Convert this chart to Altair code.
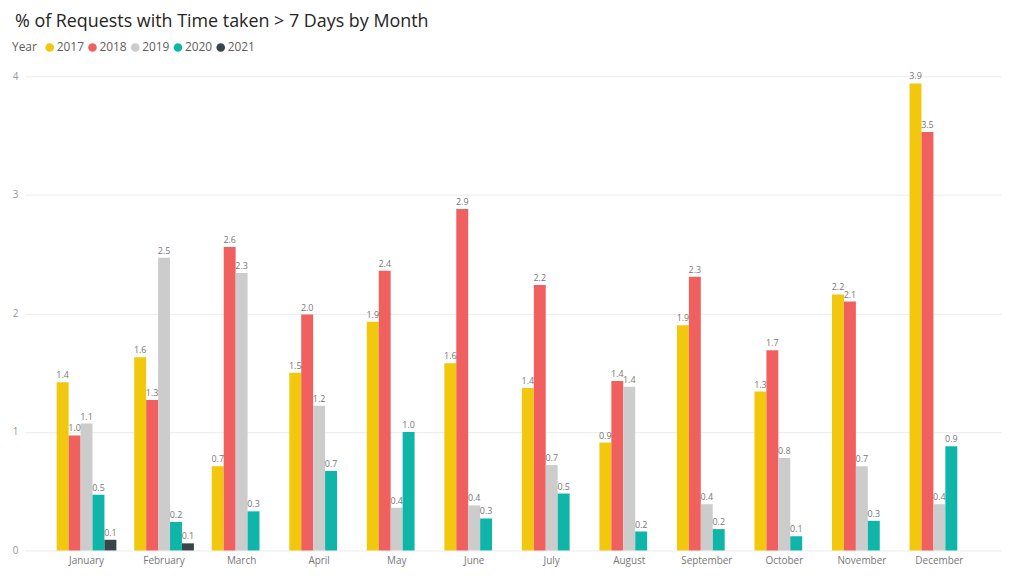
import altair as alt
import pandas as pd

months = ["January", "February", "March", "April", "May", "June", "July",
          "August", "September", "October", "November", "December"]
years = ["2017", "2018", "2019", "2020", "2021"]
colors = ["#F2C80F", "#F0605E", "#CCCCCC", "#0FB5A8", "#374649"]

v2017 = [1.42, 1.63, 0.71, 1.50, 1.93, 1.58, 1.37, 0.91, 1.90, 1.34, 2.16, 3.94]
v2018 = [0.97, 1.27, 2.56, 1.99, 2.36, 2.88, 2.24, 1.43, 2.31, 1.69, 2.10, 3.53]
v2019 = [1.07, 2.47, 2.34, 1.22, 0.36, 0.38, 0.72, 1.38, 0.39, 0.78, 0.71, 0.39]
v2020 = [0.47, 0.24, 0.33, 0.67, 1.00, 0.27, 0.48, 0.16, 0.18, 0.12, 0.25, 0.88]
v2021 = [0.09, 0.06, None, None, None, None, None, None, None, None, None, None]

rows = []
for yr, vals in zip(years, [v2017, v2018, v2019, v2020, v2021]):
    for m, v in zip(months, vals):
        if v is not None:
            rows.append({"Month": m, "Year": yr, "Value": v})
df = pd.DataFrame(rows)

FONT = "Open Sans"

x = alt.X("Month:N", sort=months, title=None,
          scale=alt.Scale(paddingInner=0.23, paddingOuter=0.41),
          axis=alt.Axis(labelAngle=0, ticks=False, domain=False, labelFontSize=10,
                        labelColor="#777777", labelPadding=5, labelFont=FONT))
xo = alt.XOffset("Year:N", scale=alt.Scale(domain=years))
y = alt.Y("Value:Q", title=None, scale=alt.Scale(domain=[0, 4]),
          axis=alt.Axis(values=[0, 1, 2, 3, 4], ticks=False, domain=False,
                        gridColor="#EBEBEB", labelColor="#999999", labelFontSize=10,
                        labelPadding=7, labelFont=FONT))
color = alt.Color("Year:N", scale=alt.Scale(domain=years, range=colors),
                  legend=alt.Legend(orient="none", legendX=-13, legendY=-35,
                                    direction="horizontal", titleOrient="left",
                                    title="Year", titleFontSize=12, titleFontWeight="normal",
                                    titleColor="#605E5C", labelFontSize=12,
                                    labelColor="#605E5C", symbolType="circle",
                                    symbolSize=75, symbolStrokeWidth=0,
                                    labelOffset=1, columnPadding=2, titlePadding=6,
                                    titleFont=FONT, labelFont=FONT))

base = alt.Chart(df).encode(x=x, xOffset=xo, y=y)
bars = base.mark_bar(size=12).encode(color=color)
labels = base.mark_text(dy=-7, fontSize=9, color="#777777", font=FONT).encode(
    text=alt.Text("Value:Q", format=".1f"))

chart = (bars + labels).properties(
    width=982, height=477,
    title=alt.Title("% of Requests with Time taken > 7 Days by Month", anchor="start",
                    fontSize=18, font=FONT, fontWeight="normal", color="#252423",
                    offset=11, dx=3),
    autosize=alt.AutoSizeParams(type="none"),
    padding={"left": 17, "top": 67, "right": 3, "bottom": 27},
).configure_view(stroke=None)

chart.save("out.html", embed_options={"renderer": "svg", "actions": False})
